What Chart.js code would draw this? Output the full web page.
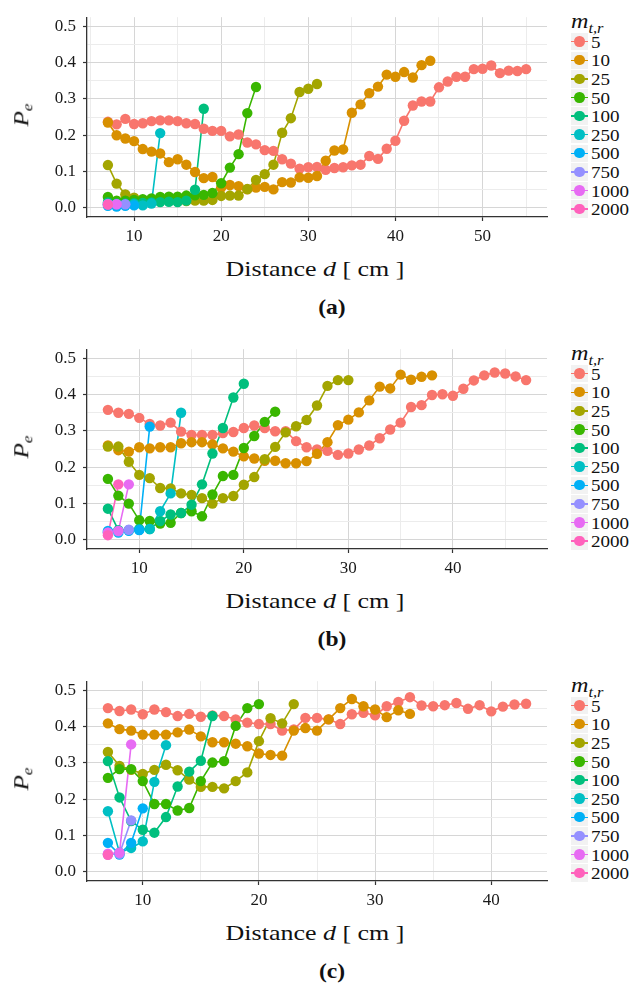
<!DOCTYPE html>
<html>
<head>
<meta charset="utf-8">
<script src="https://cdn.jsdelivr.net/npm/chart.js@4.4.1/dist/chart.umd.min.js"></script>
<style>
  html, body { margin: 0; padding: 0; background: #fff; }
  body { width: 641px; height: 984px; position: relative; overflow: hidden;
         font-family: "Liberation Serif", serif; color: #111; }
  .panel { position: absolute; left: 0; width: 641px; height: 330px; }
  .panel canvas { position: absolute; left: 0; top: 0; }
  .ytitle { position: absolute; left: 23px; top: 114.5px; line-height: 1; white-space: nowrap;
            transform: translate(-50%, -50%) rotate(-90deg) scaleX(1.15); font-size: 22px; font-style: italic; }
  .ytitle sub, .ltitle sub { font-size: 0.68em; vertical-align: -0.3em; }
  .xtitle { position: absolute; left: 315px; top: 269px; line-height: 1; white-space: nowrap;
            transform: translate(-50%, -50%) scaleX(1.18); font-size: 22px; }
  .plabel { position: absolute; left: 331.5px; top: 306.5px; line-height: 1; white-space: nowrap;
            transform: translate(-50%, -50%) scaleX(1.12); font-size: 21px; font-weight: bold; }
  .ltitle { position: absolute; left: 571px; top: 23.3px; line-height: 1; white-space: nowrap;
            transform: translate(0, -50%) scaleX(1.15); transform-origin: left center; font-size: 21px; font-style: italic; }
  .key { position: absolute; left: 570.7px; width: 17.6px; height: 17.6px; background: #f2f2f2; }
  .key .ln { position: absolute; left: 0; right: 0; top: 8px; height: 1.6px; }
  .key .pt { position: absolute; left: 3.6px; top: 3.6px; width: 10.4px; height: 10.4px; border-radius: 50%; }
  .klab { position: absolute; left: 591px; line-height: 1; font-size: 17px; white-space: nowrap;
          transform: translate(0, -50%) scaleX(1.12); transform-origin: left center; }
</style>
</head>
<body>
<div class="panel" id="pa" style="top:0px"><canvas id="ca" width="560" height="250"></canvas></div>
<div class="panel" id="pb" style="top:332px"><canvas id="cb" width="560" height="250"></canvas></div>
<div class="panel" id="pc" style="top:664px"><canvas id="cc" width="560" height="250"></canvas></div>
<script>
// legend levels (m_{t,r}) and ggplot hue colours
const levels = ['5', '10', '25', '50', '100', '250', '500', '750', '1000', '2000'];
const colors = ['#F8766D', '#D89000', '#A3A500', '#39B600', '#00BF7D',
                '#00BFC4', '#00B0F6', '#9590FF', '#E76BF3', '#FF62BC'];

// axis ticks
const yMajor = [0, 0.1, 0.2, 0.3, 0.4, 0.5];
const yMinor = [0.05, 0.15, 0.25, 0.35, 0.45];
const xMajorA = [10, 20, 30, 40, 50];
const xMinorA = [5, 15, 25, 35, 45, 55];
const xMajorB = [10, 20, 30, 40];
const xMinorB = [15, 25, 35, 45];
const xMajorC = [10, 20, 30, 40];
const xMinorC = [15, 25, 35];

// distances d [cm]
const distA = [7, 8, 9, 10, 11, 12, 13, 14, 15, 16, 17, 18, 19, 20, 21, 22, 23, 24, 25, 26, 27, 28, 29, 30, 31,
               32, 33, 34, 35, 36, 37, 38, 39, 40, 41, 42, 43, 44, 45, 46, 47, 48, 49, 50, 51, 52, 53, 54, 55];
const distB = [7, 8, 9, 10, 11, 12, 13, 14, 15, 16, 17, 18, 19, 20, 21, 22, 23, 24, 25, 26, 27,
               28, 29, 30, 31, 32, 33, 34, 35, 36, 37, 38, 39, 40, 41, 42, 43, 44, 45, 46, 47];
const distC = [7, 8, 9, 10, 11, 12, 13, 14, 15, 16, 17, 18, 19, 20, 21, 22, 23, 24, 25,
               26, 27, 28, 29, 30, 31, 32, 33, 34, 35, 36, 37, 38, 39, 40, 41, 42, 43];

// panel (a): P_e per series, starting at d = 7
const a5 = [0.237, 0.230, 0.245, 0.231, 0.233, 0.239, 0.241, 0.241, 0.239, 0.233,
            0.231, 0.218, 0.212, 0.212, 0.197, 0.202, 0.180, 0.175, 0.159, 0.157,
            0.134, 0.122, 0.108, 0.112, 0.113, 0.105, 0.110, 0.112, 0.117, 0.119,
            0.143, 0.135, 0.163, 0.185, 0.240, 0.282, 0.293, 0.293, 0.332, 0.348,
            0.361, 0.361, 0.382, 0.383, 0.392, 0.371, 0.378, 0.377, 0.382];
const a10 = [0.235, 0.200, 0.191, 0.184, 0.162, 0.155, 0.150, 0.126, 0.134, 0.119,
             0.099, 0.082, 0.085, 0.056, 0.063, 0.060, 0.051, 0.056, 0.058, 0.051,
             0.071, 0.070, 0.084, 0.083, 0.088, 0.130, 0.158, 0.161, 0.262, 0.285,
             0.316, 0.334, 0.367, 0.361, 0.374, 0.359, 0.393, 0.405];
const a25 = [0.118, 0.067, 0.037, 0.028, 0.022, 0.020, 0.020, 0.019, 0.018, 0.019,
             0.020, 0.020, 0.022, 0.033, 0.034, 0.034, 0.052, 0.077, 0.093, 0.119,
             0.207, 0.247, 0.319, 0.328, 0.341];
const a50 = [0.030, 0.020, 0.020, 0.022, 0.024, 0.026, 0.030, 0.031, 0.031, 0.034,
             0.035, 0.036, 0.041, 0.068, 0.111, 0.148, 0.261, 0.333];
const a100 = [0.015, 0.012, 0.012, 0.013, 0.014, 0.015, 0.016, 0.017, 0.016, 0.020, 0.050, 0.273];
const a250 = [0.010, 0.009, 0.008, 0.010, 0.007, 0.012, 0.206];
const a500 = [0.006, 0.004, 0.006, 0.007];
const a750 = [0.011, 0.010, 0.010];
const a1000 = [0.010, 0.010];
const a2000 = [0.009];

// panel (b)
const b5 = [0.358, 0.350, 0.347, 0.336, 0.319, 0.315, 0.323, 0.298, 0.289, 0.289,
            0.289, 0.294, 0.297, 0.308, 0.315, 0.308, 0.299, 0.299, 0.272, 0.255,
            0.249, 0.245, 0.234, 0.238, 0.249, 0.260, 0.280, 0.304, 0.323, 0.366,
            0.371, 0.399, 0.401, 0.397, 0.416, 0.439, 0.453, 0.461, 0.458, 0.450, 0.440];
const b10 = [0.260, 0.247, 0.243, 0.255, 0.252, 0.255, 0.255, 0.266, 0.269, 0.269,
             0.263, 0.252, 0.243, 0.230, 0.224, 0.218, 0.218, 0.211, 0.211, 0.217,
             0.237, 0.269, 0.316, 0.331, 0.351, 0.384, 0.422, 0.417, 0.455, 0.441, 0.449, 0.453];
const b25 = [0.257, 0.257, 0.215, 0.179, 0.170, 0.143, 0.142, 0.128, 0.124, 0.115,
             0.100, 0.115, 0.121, 0.152, 0.173, 0.222, 0.256, 0.296, 0.313, 0.330,
             0.370, 0.424, 0.440, 0.440];
const b50 = [0.168, 0.122, 0.100, 0.054, 0.052, 0.045, 0.047, 0.074, 0.079, 0.065,
             0.125, 0.176, 0.179, 0.253, 0.286, 0.325, 0.353];
const b100 = [0.086, 0.027, 0.027, 0.030, 0.030, 0.052, 0.070, 0.074, 0.097, 0.153,
              0.238, 0.308, 0.392, 0.430];
const b250 = [0.022, 0.025, 0.027, 0.028, 0.030, 0.079, 0.128, 0.350];
const b500 = [0.025, 0.020, 0.025, 0.027, 0.312];
const b750 = [0.020, 0.024, 0.028];
const b1000 = [0.020, 0.025, 0.153];
const b2000 = [0.013, 0.153];

// panel (c)
const c5 = [0.451, 0.443, 0.447, 0.434, 0.447, 0.440, 0.429, 0.435, 0.427, 0.431,
            0.429, 0.420, 0.411, 0.407, 0.407, 0.389, 0.392, 0.424, 0.424, 0.420,
            0.407, 0.434, 0.438, 0.431, 0.456, 0.468, 0.481, 0.458, 0.456, 0.459,
            0.465, 0.449, 0.459, 0.442, 0.455, 0.461, 0.463];
const c10 = [0.409, 0.393, 0.389, 0.378, 0.378, 0.378, 0.384, 0.392, 0.373, 0.357,
             0.357, 0.353, 0.346, 0.326, 0.322, 0.320, 0.389, 0.396, 0.389, 0.420,
             0.451, 0.476, 0.456, 0.447, 0.426, 0.445, 0.435];
const c25 = [0.330, 0.292, 0.281, 0.270, 0.281, 0.295, 0.280, 0.254, 0.234, 0.234,
             0.230, 0.250, 0.274, 0.360, 0.423, 0.409, 0.462];
const c50 = [0.259, 0.283, 0.283, 0.250, 0.187, 0.187, 0.169, 0.176, 0.250, 0.301,
             0.305, 0.402, 0.451, 0.462];
const c100 = [0.305, 0.205, 0.140, 0.116, 0.108, 0.151, 0.235, 0.276, 0.306, 0.429];
const c250 = [0.167, 0.053, 0.066, 0.084, 0.248, 0.349];
const c500 = [0.080, 0.048, 0.080, 0.175];
const c750 = [0.048, 0.050, 0.142];
const c1000 = [0.050, 0.053, 0.351];
const c2000 = [0.047];

const isMajorY = v => Math.abs(v * 10 - Math.round(v * 10)) < 1e-6;

function makePanel(canvasId, panelId, tag, dist, series, xMin, xMax, xMajor, xMinor) {
    const datasets = [];
    series.forEach((vals, i) => {
        const pts = vals.map((v, k) => ({ x: dist[k], y: v }));
        // lines below, points above (as geom_line + geom_point)
        datasets.push({ data: pts, showLine: true, borderColor: colors[i], borderWidth: 1.6,
                        pointRadius: 0, fill: false, tension: 0, order: 100 - i });
        datasets.push({ data: pts, showLine: false, pointRadius: 5.2, pointHoverRadius: 5.2,
                        pointBackgroundColor: colors[i], pointBorderWidth: 0, order: 50 - i });
    });

    const xGrid = xMajor.concat(xMinor).sort((p, q) => p - q);
    const yGrid = yMajor.concat(yMinor).sort((p, q) => p - q);
    const tickFont = { family: 'Liberation Serif', size: 17 };

    new Chart(document.getElementById(canvasId), {
        type: 'scatter',
        data: { datasets },
        options: {
            responsive: false,
            animation: false,
            devicePixelRatio: 1,
            events: [],
            layout: { padding: { left: 0, right: 13, top: 12, bottom: 0 } },
            plugins: { legend: { display: false }, tooltip: { enabled: false } },
            scales: {
                x: {
                    type: 'linear', min: xMin, max: xMax,
                    afterBuildTicks: s => { s.ticks = xGrid.map(v => ({ value: v })); },
                    afterFit: s => { s.height = 33; },
                    ticks: {
                        autoSkip: false, maxRotation: 0, padding: 5, color: '#1a1a1a', font: tickFont,
                        callback: v => xMajor.includes(v) ? String(v) : ''
                    },
                    grid: {
                        color: ctx => xMajor.includes(ctx.tick.value) ? '#d6d6d6' : '#ececec',
                        lineWidth: 1, drawTicks: true, tickLength: 4, tickWidth: 1.2,
                        tickColor: ctx => xMajor.includes(ctx.tick.value) ? '#333' : 'rgba(0,0,0,0)'
                    },
                    border: { display: true, color: '#333', width: 1.3 }
                },
                y: {
                    type: 'linear', min: -0.025, max: 0.525,
                    afterBuildTicks: s => { s.ticks = yGrid.map(v => ({ value: v })); },
                    afterFit: s => { s.width = 87; },
                    ticks: {
                        autoSkip: false, padding: 7, color: '#1a1a1a', font: tickFont,
                        callback: v => isMajorY(v) ? v.toFixed(1) : ''
                    },
                    grid: {
                        color: ctx => isMajorY(ctx.tick.value) ? '#d6d6d6' : '#ececec',
                        lineWidth: 1, drawTicks: true, tickLength: 4, tickWidth: 1.2,
                        tickColor: ctx => isMajorY(ctx.tick.value) ? '#333' : 'rgba(0,0,0,0)'
                    },
                    border: { display: true, color: '#333', width: 1.3 }
                }
            }
        }
    });

    // titles and legend
    const panel = document.getElementById(panelId);
    let html = '<div class="ytitle">P<sub>e</sub></div>' +
               '<div class="xtitle">Distance <i>d</i> [ cm ]</div>' +
               '<div class="plabel">(' + tag + ')</div>' +
               '<div class="ltitle">m<sub>t,r</sub></div>';
    levels.forEach((lab, i) => {
        const cy = 41.7 + 18.6 * i;
        html += '<div class="key" style="top:' + (cy - 8.8) + 'px">' +
                '<div class="ln" style="background:' + colors[i] + '"></div>' +
                '<div class="pt" style="background:' + colors[i] + '"></div></div>' +
                '<div class="klab" style="top:' + cy + 'px">' + lab + '</div>';
    });
    panel.insertAdjacentHTML('beforeend', html);
}

makePanel('ca', 'pa', 'a', distA, [a5, a10, a25, a50, a100, a250, a500, a750, a1000, a2000],
          4.6, 57.4, xMajorA, xMinorA);
makePanel('cb', 'pb', 'b', distB, [b5, b10, b25, b50, b100, b250, b500, b750, b1000, b2000],
          5.0, 49.0, xMajorB, xMinorB);
makePanel('cc', 'pc', 'c', distC, [c5, c10, c25, c50, c100, c250, c500, c750, c1000, c2000],
          5.2, 44.8, xMajorC, xMinorC);
</script>
</body>
</html>
